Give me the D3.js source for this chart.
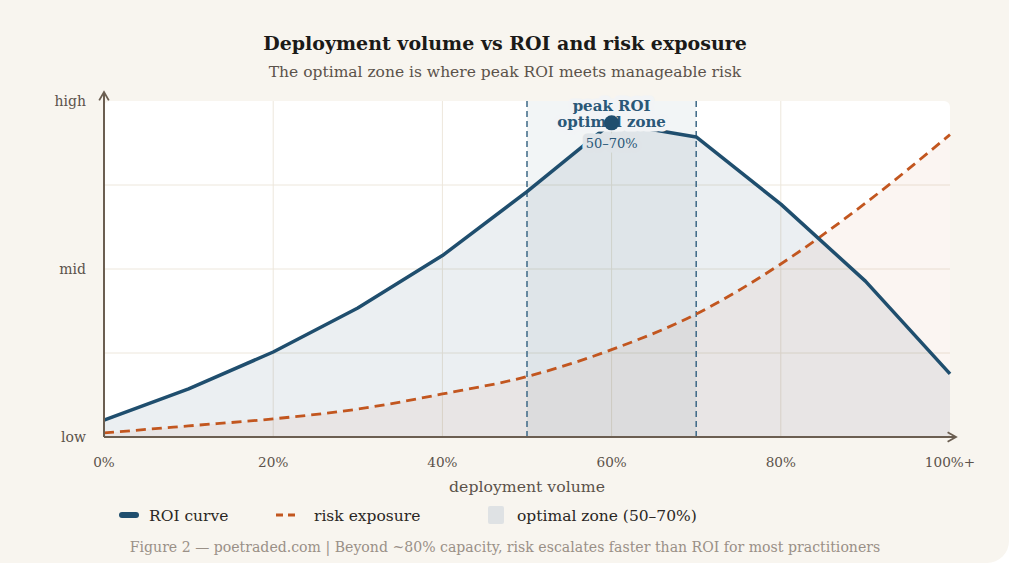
<!DOCTYPE html>
<html>
<head>
<meta charset="utf-8">
<script src="https://cdn.jsdelivr.net/npm/d3@7"></script>
<style>
  html, body { margin: 0; padding: 0; background: #ffffff; }
  svg { display: block; font-family: "DejaVu Serif", "Liberation Serif", serif; }
</style>
</head>
<body>
<script>
// Data
const volumes = [0, 10, 20, 30, 40, 50, 60, 70, 80, 90, 100];
const roiValues = [0.05, 0.143, 0.253, 0.384, 0.54, 0.73, 0.935, 0.893, 0.693, 0.464, 0.188];
const riskValues = [0.012, 0.033, 0.054, 0.083, 0.128, 0.18, 0.26, 0.366, 0.515, 0.696, 0.9];
const xTicks = [0, 20, 40, 60, 80, 100];
const xTickLabels = ["0%", "20%", "40%", "60%", "80%", "100%+"];
const yTicks = [0, 0.5, 1];
const yTickLabels = ["low", "mid", "high"];
const zone = [50, 70];
const peak = {x: 60, y: 0.935};

const W = 1024, H = 578;
const margin = {top: 101, right: 74, bottom: 141, left: 104};
const width = W - margin.left - margin.right;
const height = H - margin.top - margin.bottom;

const blue = "#1f4e6e", orange = "#c2561f", axisCol = "#6b5e51";

const svg = d3.select("body").append("svg")
    .attr("width", W)
    .attr("height", H);

// card background
svg.append("rect")
    .attr("x", -20).attr("y", -20)
    .attr("width", 1029).attr("height", 583)
    .attr("rx", 22)
    .attr("fill", "#f8f5ef");

// title + subtitle
svg.append("text")
    .attr("x", 505).attr("y", 50)
    .attr("text-anchor", "middle")
    .style("font-size", "19px").style("font-weight", "bold")
    .attr("fill", "#1b1a18")
    .text("Deployment volume vs ROI and risk exposure");
svg.append("text")
    .attr("x", 505).attr("y", 77)
    .attr("text-anchor", "middle")
    .style("font-size", "15.5px")
    .attr("fill", "#5b524a")
    .text("The optimal zone is where peak ROI meets manageable risk");

const g = svg.append("g")
    .attr("transform", `translate(${margin.left},${margin.top})`);

const x = d3.scaleLinear().domain([0, 100]).range([0, width]);
const y = d3.scaleLinear().domain([0, 1]).range([height, 0]);

// plot background
g.append("rect")
    .attr("width", width).attr("height", height)
    .attr("rx", 6)
    .attr("fill", "#ffffff");

// grid
g.append("g").selectAll("line")
    .data([0.25, 0.5, 0.75])
    .enter().append("line")
    .attr("x1", 0).attr("x2", width)
    .attr("y1", d => y(d)).attr("y2", d => y(d))
    .attr("stroke", "#ede7dc").attr("stroke-width", 1);
g.append("g").selectAll("line")
    .data([20, 40, 60, 80])
    .enter().append("line")
    .attr("x1", d => x(d)).attr("x2", d => x(d))
    .attr("y1", 0).attr("y2", height)
    .attr("stroke", "#ede7dc").attr("stroke-width", 1);

const roiData = volumes.map((v, i) => ({x: v, y: roiValues[i]}));
const riskData = volumes.map((v, i) => ({x: v, y: riskValues[i]}));

const area = d3.area()
    .x(d => x(d.x))
    .y0(height)
    .y1(d => y(d.y));
const line = d3.line()
    .x(d => x(d.x))
    .y(d => y(d.y));

// area fills
g.append("path").datum(roiData)
    .attr("d", area)
    .attr("fill", blue).attr("fill-opacity", 0.09);
g.append("path").datum(riskData)
    .attr("d", area.curve(d3.curveMonotoneX))
    .attr("fill", orange).attr("fill-opacity", 0.06);

// optimal zone
g.append("rect")
    .attr("x", x(zone[0])).attr("y", 0)
    .attr("width", x(zone[1]) - x(zone[0]))
    .attr("height", height)
    .attr("fill", blue).attr("fill-opacity", 0.06);
g.selectAll(".zoneline")
    .data(zone)
    .enter().append("line")
    .attr("class", "zoneline")
    .attr("x1", d => x(d)).attr("x2", d => x(d))
    .attr("y1", 0).attr("y2", height)
    .attr("stroke", "#3c6887").attr("stroke-width", 1.5)
    .attr("stroke-dasharray", "6,4");

// lines
g.append("path").datum(riskData)
    .attr("d", line.curve(d3.curveMonotoneX))
    .attr("fill", "none")
    .attr("stroke", orange).attr("stroke-width", 2.8)
    .attr("stroke-dasharray", "10,6");
g.append("path").datum(roiData)
    .attr("d", line.curve(d3.curveLinear))
    .attr("fill", "none")
    .attr("stroke", blue).attr("stroke-width", 3.5)
    .attr("stroke-linejoin", "round");

// peak labels (halo hides the line beneath, coloured like the local background)
const labels = [
    {t: "peak ROI", dy: -12, bold: true, size: 15, halo: "#f2f4f6"},
    {t: "optimal zone", dy: 4, bold: true, size: 15, halo: "#f2f4f6"},
    {t: "50–70%", dy: 25, bold: false, size: 13, halo: "#dfe4e8"}
];
g.selectAll(".peaklabel")
    .data(labels)
    .enter().append("text")
    .attr("class", "peaklabel")
    .attr("x", x(peak.x))
    .attr("y", d => y(peak.y) + d.dy)
    .attr("text-anchor", "middle")
    .style("font-size", d => d.size + "px")
    .style("font-weight", d => d.bold ? "bold" : "normal")
    .attr("fill", "#2a5878")
    .attr("stroke", d => d.halo).attr("stroke-width", 9)
    .attr("stroke-linejoin", "round")
    .attr("paint-order", "stroke")
    .text(d => d.t);

g.append("circle")
    .attr("cx", x(peak.x)).attr("cy", y(peak.y))
    .attr("r", 7.5)
    .attr("fill", blue);

// axes with arrows
const defs = svg.append("defs");
defs.append("marker")
    .attr("id", "arrow")
    .attr("viewBox", "0 0 10 10")
    .attr("refX", 8).attr("refY", 5)
    .attr("markerWidth", 6).attr("markerHeight", 6)
    .attr("orient", "auto")
    .append("path")
    .attr("d", "M1,1 L8,5 L1,9")
    .attr("fill", "none")
    .attr("stroke", axisCol).attr("stroke-width", 1.5);

g.append("line")
    .attr("x1", 0).attr("x2", 0)
    .attr("y1", height).attr("y2", -9)
    .attr("stroke", axisCol).attr("stroke-width", 2)
    .attr("marker-end", "url(#arrow)");
g.append("line")
    .attr("x1", 0).attr("x2", width + 6)
    .attr("y1", height).attr("y2", height)
    .attr("stroke", axisCol).attr("stroke-width", 2)
    .attr("marker-end", "url(#arrow)");

// tick labels
g.selectAll(".xtick")
    .data(xTicks)
    .enter().append("text")
    .attr("class", "xtick")
    .attr("x", d => x(d))
    .attr("y", height + 30)
    .attr("text-anchor", "middle")
    .style("font-size", "13.6px")
    .attr("fill", "#5b524a")
    .text((d, i) => xTickLabels[i]);
g.selectAll(".ytick")
    .data(yTicks)
    .enter().append("text")
    .attr("class", "ytick")
    .attr("x", -18)
    .attr("y", d => y(d) + 5)
    .attr("text-anchor", "end")
    .style("font-size", "14px")
    .attr("fill", "#5b524a")
    .text((d, i) => yTickLabels[i]);

svg.append("text")
    .attr("x", 527).attr("y", 492)
    .attr("text-anchor", "middle")
    .style("font-size", "15.7px")
    .attr("fill", "#5b524a")
    .text("deployment volume");

// legend
const leg = svg.append("g").attr("transform", "translate(0,515)");
leg.append("line")
    .attr("x1", 122).attr("x2", 136)
    .attr("y1", 0).attr("y2", 0)
    .attr("stroke", blue).attr("stroke-width", 6)
    .attr("stroke-linecap", "round");
leg.append("text").attr("x", 149).attr("y", 6)
    .style("font-size", "15.5px").attr("fill", "#2a2724")
    .text("ROI curve");
leg.append("line")
    .attr("x1", 276).attr("x2", 298)
    .attr("y1", 0).attr("y2", 0)
    .attr("stroke", orange).attr("stroke-width", 3)
    .attr("stroke-dasharray", "7,5");
leg.append("text").attr("x", 314).attr("y", 6)
    .style("font-size", "15.5px").attr("fill", "#2a2724")
    .text("risk exposure");
leg.append("rect")
    .attr("x", 488).attr("y", -9)
    .attr("width", 16).attr("height", 18)
    .attr("rx", 2)
    .attr("fill", "#dfe2e4");
leg.append("text").attr("x", 517).attr("y", 6)
    .style("font-size", "15.5px").attr("fill", "#2a2724")
    .text("optimal zone (50–70%)");

// caption
svg.append("text")
    .attr("x", 505).attr("y", 552)
    .attr("text-anchor", "middle")
    .style("font-size", "14.1px")
    .attr("fill", "#9a9087")
    .text("Figure 2 — poetraded.com | Beyond ~80% capacity, risk escalates faster than ROI for most practitioners");
</script>
</body>
</html>
